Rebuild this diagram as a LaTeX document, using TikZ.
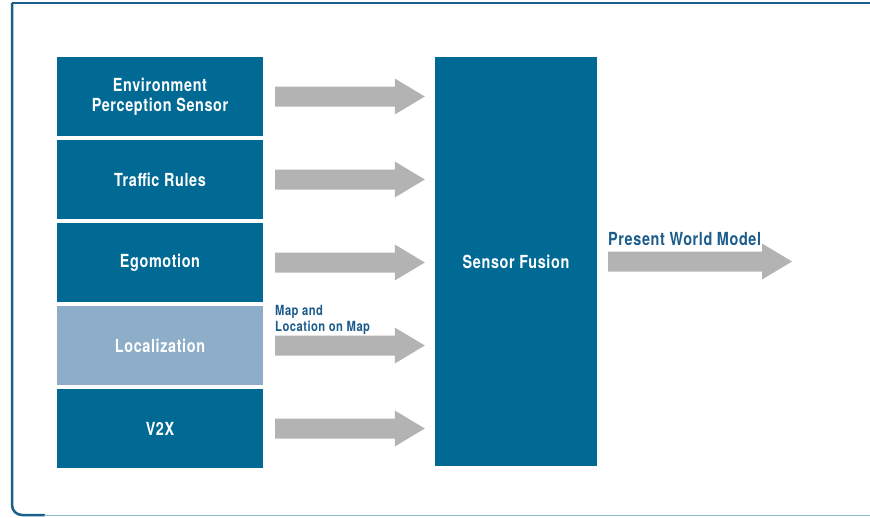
\documentclass[tikz,border=0pt]{standalone}
\usepackage{fontspec}
\setmainfont{TeX Gyre Heros}[FakeStretch=0.8, LetterSpace=3.5]
\usetikzlibrary{calc}
\definecolor{boxblue}{HTML}{006A95}
\definecolor{lightbox}{HTML}{8EADC9}
\definecolor{arrowgray}{HTML}{B3B3B3}
\definecolor{framedark}{HTML}{1A5E8A}
\definecolor{framelight}{HTML}{8FB5CF}
\definecolor{labelblue}{HTML}{1B5C8C}
\tikzset{
  inbox/.style = {fill = boxblue, text = white, minimum width = 206pt, minimum height = 79pt,
    inner sep = 0pt, align = center, font = \fontsize{18}{20}\selectfont\bfseries},
  fusionbox/.style = {inbox, minimum width = 162pt, minimum height = 409pt},
  arrowlabel/.style = {text = labelblue, inner sep = 0pt, align = left}
}
% fat gray arrow: from anchor, to anchor, start gap, end gap
\newcommand\bigarrow[4]{%
  \fill[arrowgray] let \p1 = (#1), \p2 = (#2) in
    (\x1+#3pt,\y1+10pt) -- (\x2-#4pt-30pt,\y1+10pt) -- (\x2-#4pt-30pt,\y1+18pt) -- (\x2-#4pt,\y1)
    -- (\x2-#4pt-30pt,\y1-18pt) -- (\x2-#4pt-30pt,\y1-10pt) -- (\x1+#3pt,\y1-10pt) -- cycle;}
\begin{document}
\begin{tikzpicture}[x = 1pt, y = -1pt]
\useasboundingbox (0,0) rectangle (870,517);
% frame
\draw[framedark, line width = 2.5pt] (12,3) -- (875,3);
\draw[framedark, line width = 2.5pt, rounded corners = 10pt] (12,3) -- (12,515) -- (45,515);
\draw[framelight, line width = 1.5pt] (44,515.5) -- (875,515.5);
% inputs
\node[inbox] (env) at (160,96.5) {Environment\\Perception Sensor};
\node[inbox] (rules) at (160,179.5) {Traffic Rules};
\node[inbox] (ego) at (160,262.5) {Egomotion};
\node[inbox, fill = lightbox] (loc) at (160,345.5) {Localization};
\node[inbox] (vtwox) at (160,428.5) {V2X};
\node[fusionbox] (fusion) at (516,261.5) {Sensor Fusion};
\coordinate (world) at (792,261.5);
% arrows
\foreach \src in {env,rules,ego,loc,vtwox} \bigarrow{\src.east}{fusion.west}{12}{10};
\bigarrow{fusion.east}{world}{11}{0};
\node[arrowlabel, anchor = north west, font = \fontsize{14}{16}\selectfont\bfseries] (maplabel) at (275,305) {Map and\\Location on Map};
\node[arrowlabel, anchor = base west, font = \fontsize{18}{20}\selectfont\bfseries] (worldlabel) at (608,245) {Present World Model};
\end{tikzpicture}
\end{document}
